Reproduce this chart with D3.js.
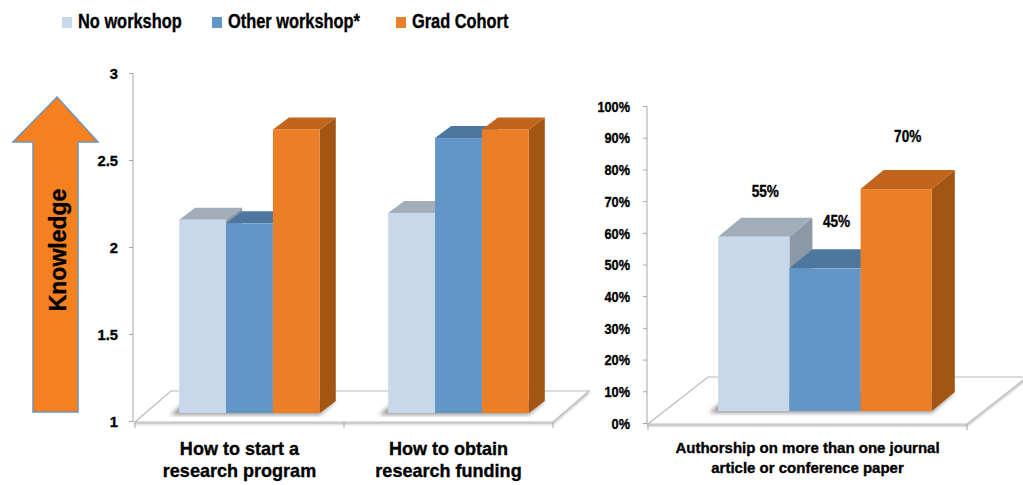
<!DOCTYPE html>
<html>
<head>
<meta charset="utf-8">
<script src="https://cdn.jsdelivr.net/npm/d3@7"></script>
<style>
  body { margin: 0; background: #fff; }
  svg { display: block; }
  .bold { font-family: "Liberation Sans", Arial, sans-serif; font-weight: bold; fill: #000; stroke: #000; stroke-width: 0.35px; }
</style>
</head>
<body>
<svg id="vis" width="1023" height="485"></svg>
<script>
// series + data
var seriesNames = ['No workshop', 'Other workshop*', 'Grad Cohort'];
var frontColors = ['#c6d8ea', '#6296c7', '#ea7f27'];
var topColors = ['#a1adb9', '#4e77a0', '#c0651b'];
var sideColors = ['#8b98a5', '#43698f', '#a35514'];

// left chart: knowledge scores (1..3)
var knowledgeCategories = ['How to start a\nresearch program', 'How to obtain\nresearch funding'];
var noWorkshop = [2.11, 2.15];
var otherWorkshop = [2.09, 2.58];
var gradCohort = [2.63, 2.63];
var knowledgeTicks = [1, 1.5, 2, 2.5, 3];

// right chart: authorship share
var authorCategories = ['Authorship on more than one journal\narticle or conference paper'];
var authorNo = [0.55];
var authorOther = [0.45];
var authorGrad = [0.70];
var authorTicks = [0, 0.1, 0.2, 0.3, 0.4, 0.5, 0.6, 0.7, 0.8, 0.9, 1];

var svg = d3.select('#vis');
var defs = svg.append('defs');
defs.append('filter').attr('id', 'floorShadow')
  .append('feDropShadow').attr('dx', 0).attr('dy', 1.5)
  .attr('stdDeviation', 1).attr('flood-color', '#000').attr('flood-opacity', 0.3);
defs.append('filter').attr('id', 'blur')
  .append('feGaussianBlur').attr('stdDeviation', 2);

// no narrow font installed, so squeeze the bold one horizontally
function narrow(sel, x, y, k) {
  return sel.attr('class', 'bold').attr('x', 0).attr('y', 0)
    .attr('transform', 'translate(' + x + ',' + y + ') scale(' + k + ',1)');
}

// legend
var legendX = [62, 212, 396];
var legend = svg.append('g');
seriesNames.forEach(function (name, i) {
  legend.append('rect').attr('x', legendX[i]).attr('y', 17)
    .attr('width', 10).attr('height', 11).attr('fill', frontColors[i]);
  narrow(legend.append('text'), legendX[i] + 16, 28, 0.82)
    .attr('font-size', 20).text(name);
});

// Knowledge arrow
svg.append('path')
  .attr('d', 'M57,97 L98,142 L78,142 L78,412 L33,412 L33,142 L13,142 Z')
  .attr('fill', '#f5801f').attr('stroke', '#7293b5').attr('stroke-width', 1.5);
svg.append('text').attr('class', 'bold')
  .attr('transform', 'translate(66,250) rotate(-90)')
  .attr('text-anchor', 'middle').attr('font-size', 23).text('Knowledge');

function polygon(g, pts, fill) {
  return g.append('polygon')
    .attr('points', pts.map(function (p) { return p.join(','); }).join(' '))
    .attr('fill', fill);
}

// draws one pseudo-3D clustered bar chart
function draw3D(c) {
  var g = svg.append('g');
  var x = d3.scaleBand().domain(c.categories).range(c.xRange);
  var inner = d3.scaleBand().domain(seriesNames).range([0, x.bandwidth()])
    .paddingOuter(c.outerPad);
  var y = d3.scaleLinear().domain(c.yDomain).range(c.yRange);

  var x0 = c.xRange[0], x1 = c.xRange[1], fy = y(c.yDomain[0]) + 1;
  // floor
  polygon(g, [[x0, fy], [x1, fy], [x1 + c.floor[0], fy + c.floor[1]], [x0 + c.floor[0], fy + c.floor[1]]], '#fff')
    .attr('stroke', '#bdbdbd').attr('stroke-width', 1.2).attr('filter', 'url(#floorShadow)');

  // y axis
  var axis = g.append('g').attr('transform', 'translate(' + c.axisX + ',0)')
    .call(d3.axisLeft(y).tickValues(c.ticks).tickSize(4).tickFormat(c.fmt));
  axis.select('.domain').attr('stroke', '#a6a6a6').attr('d', 'M0,' + c.yRange[1] + 'V' + fy);
  axis.selectAll('.tick line').attr('stroke', '#a6a6a6');
  axis.selectAll('.tick text').each(function () {
    narrow(d3.select(this), -c.tickPad, 0, c.tickSquash)
      .attr('dy', '0.35em').attr('font-size', c.tickSize);
  });

  // category ticks on the floor edge
  var edges = c.categories.map(function (d) { return x(d); }).concat([x1]);
  g.selectAll('.xtick').data(edges).enter().append('line')
    .attr('x1', function (d) { return d; }).attr('x2', function (d) { return d; })
    .attr('y1', fy).attr('y2', fy + 6).attr('stroke', '#a6a6a6');

  // category labels
  c.categories.forEach(function (cat) {
    cat.split('\n').forEach(function (line, i) {
      narrow(g.append('text'), x(cat) + x.bandwidth() / 2, c.catY[i], c.catSquash)
        .attr('font-size', c.catSize).attr('text-anchor', 'middle').text(line);
    });
  });

  var sx = c.shift[0], sy = c.shift[1], dx = c.depth[0], dy = c.depth[1];
  c.categories.forEach(function (cat, ci) {
    var base = y(c.yDomain[0]) + sy;
    var gx = x(cat) + sx;
    var left = gx + inner(seriesNames[0]);
    var right = gx + inner(seriesNames[2]) + inner.bandwidth();
    // soft shadow under the cluster
    polygon(g, [[left - 9, base + 2], [right, base + 2], [right + dx, base + dy], [left - 9 + dx, base + dy]], '#444')
      .attr('opacity', 0.55).attr('filter', 'url(#blur)');
    c.values.forEach(function (vals, si) {
      var bx0 = gx + inner(seriesNames[si]);
      var bx1 = bx0 + inner.bandwidth();
      var top = y(vals[ci]) + sy;
      polygon(g, [[bx1, top], [bx1 + dx, top + dy], [bx1 + dx, base + dy], [bx1, base]], sideColors[si]);
      polygon(g, [[bx0, top], [bx1, top], [bx1 + dx, top + dy], [bx0 + dx, top + dy]], topColors[si]);
      g.append('rect').attr('x', bx0).attr('y', top).attr('width', bx1 - bx0)
        .attr('height', base - top).attr('fill', frontColors[si]);
      if (c.labels) {
        narrow(g.append('text'), (bx0 + bx1) / 2 + dx / 2, top - c.labelGap[si], 0.85)
          .attr('font-size', 16).attr('text-anchor', 'middle')
          .text(d3.format('.0%')(vals[ci]));
      }
    });
  });
}

draw3D({
  categories: knowledgeCategories,
  values: [noWorkshop, otherWorkshop, gradCohort],
  xRange: [135, 553], yDomain: [1, 3], yRange: [421, 73],
  outerPad: 0.73, ticks: knowledgeTicks, fmt: d3.format(''),
  axisX: 133, tickPad: 15, tickSquash: 0.95, tickSize: 15.5,
  floor: [36, -31], shift: [10, -8], depth: [16, -12],
  catSize: 19, catSquash: 0.95, catY: [455, 477], labels: false
});

draw3D({
  categories: authorCategories,
  values: [authorNo, authorOther, authorGrad],
  xRange: [648, 967], yDomain: [0, 1], yRange: [423, 106],
  outerPad: 0.74, ticks: authorTicks, fmt: d3.format('.0%'),
  axisX: 647, tickPad: 17, tickSquash: 0.85, tickSize: 15,
  floor: [60, -47], shift: [17.5, -12], depth: [23, -19],
  catSize: 15, catSquash: 1, catY: [453, 473], labels: true, labelGap: [40, 41, 47]
});
</script>
</body>
</html>
